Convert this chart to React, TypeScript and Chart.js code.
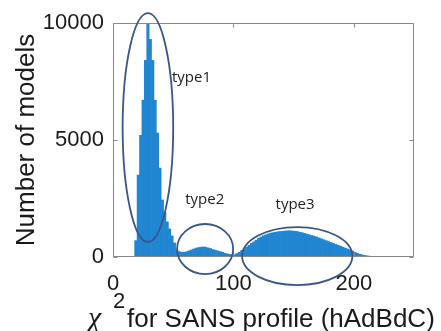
import React, { useEffect, useRef } from "react";
import { Chart, registerables } from "chart.js";
Chart.register(...registerables);

// Histogram of chi^2 values, bin width 2
const BIN_WIDTH = 2;
const type1Start = 16;
const type1Counts = [0, 700, 3500, 5200, 6700, 8400, 10000, 9300, 8400, 6700, 5300, 3800, 2440, 1900, 1500, 1200, 900, 600, 300, 230, 200, 200, 220, 260];
const type2Start = 64;
const type2Counts = [300, 340, 380, 400, 420, 430, 420, 390, 360, 320, 290, 260, 230, 200, 160, 130, 110, 100];
const type3Start = 100;
const type3Counts = [100, 150, 200, 280, 340, 420, 500, 580, 650, 720, 800, 860, 910, 950, 990, 1020, 1040, 1060, 1080, 1090, 1100, 1110, 1120, 1120, 1110, 1100, 1090, 1060, 1040, 1010, 980, 950, 920, 890, 860, 820, 780, 740, 700, 660, 620, 580, 540, 500, 460, 420, 380, 340, 300, 250, 200, 160, 120, 90, 70, 50, 35, 25, 15, 10, 5];

const xTicks = [0, 100, 200];
const yTicks = [0, 5000, 10000];

// annotation ellipses in data units: [cx, cy, rx, ry]
const ellipses = [
  [29, 5530, 21, 4890],
  [76.5, 340, 23.3, 1070],
  [153, 40, 45.8, 1240],
];
const typeLabels = ["type1", "type2", "type3"];
const typeLabelPos = [
  [49, 7650],
  [60, 2440],
  [135, 2220],
];

function buildPoints(start: number, counts: number[]) {
  return counts.map((v, i) => ({ x: start + i * BIN_WIDTH + BIN_WIDTH / 2, y: v }));
}

const overlayPlugin = {
  id: "overlay",
  afterDraw(chart: any) {
    const { ctx, chartArea: a, scales } = chart;
    const x = scales.x;
    const y = scales.y;
    ctx.save();
    // frame
    const L = Math.round(a.left) + 0.5;
    const R = Math.round(a.right) - 0.5;
    const T = Math.round(a.top) + 0.5;
    const B = Math.round(a.bottom) - 0.5;
    ctx.strokeStyle = "#8a8a8a";
    ctx.lineWidth = 1;
    ctx.beginPath();
    ctx.rect(L, T, R - L, B - T);
    ctx.stroke();
    // inward ticks
    const tl = 4;
    ctx.beginPath();
    xTicks.forEach((v) => {
      const px = Math.round(x.getPixelForValue(v)) + 0.5;
      ctx.moveTo(px, B);
      ctx.lineTo(px, B - tl);
      ctx.moveTo(px, T);
      ctx.lineTo(px, T + tl);
    });
    yTicks.forEach((v) => {
      const py = Math.round(y.getPixelForValue(v)) + 0.5;
      ctx.moveTo(L, py);
      ctx.lineTo(L + tl, py);
      ctx.moveTo(R, py);
      ctx.lineTo(R - tl, py);
    });
    ctx.stroke();

    // ellipses
    ctx.strokeStyle = "#3a5689";
    ctx.lineWidth = 1.8;
    ellipses.forEach(([cx, cy, rx, ry]) => {
      const pcx = x.getPixelForValue(cx);
      const pcy = y.getPixelForValue(cy);
      const prx = Math.abs(x.getPixelForValue(cx + rx) - pcx);
      const pry = Math.abs(y.getPixelForValue(cy + ry) - pcy);
      ctx.beginPath();
      ctx.ellipse(pcx, pcy, prx, pry, 0, 0, Math.PI * 2);
      ctx.stroke();
    });

    // type labels
    ctx.fillStyle = "#222";
    ctx.font = "15px 'Open Sans'";
    ctx.textAlign = "left";
    ctx.textBaseline = "middle";
    typeLabels.forEach((t, i) => {
      const [lx, ly] = typeLabelPos[i];
      ctx.fillText(t, x.getPixelForValue(lx), y.getPixelForValue(ly));
    });

    // y axis title
    ctx.fillStyle = "#1a1a1a";
    ctx.save();
    ctx.translate(34, (a.top + a.bottom) / 2);
    ctx.rotate(-Math.PI / 2);
    ctx.font = "26px 'Liberation Sans'";
    ctx.textAlign = "center";
    ctx.textBaseline = "alphabetic";
    ctx.fillText("Number of models", 0, 0);
    ctx.restore();

    // x axis title
    const base = a.bottom + 70;
    const startX = a.left - 25;
    ctx.textAlign = "left";
    ctx.textBaseline = "alphabetic";
    ctx.font = "italic 30px 'Liberation Serif'";
    ctx.fillText("χ", startX, base);
    ctx.font = "22px 'Liberation Sans'";
    ctx.fillText("2", startX + 25, base - 19);
    ctx.font = "26px 'Liberation Sans'";
    ctx.fillText("for SANS profile (hAdBdC)", startX + 39, base);
    ctx.restore();
  },
};

export default function App() {
  const ref = useRef<HTMLCanvasElement>(null);
  useEffect(() => {
    if (!ref.current) return;
    const points = [
      ...buildPoints(type1Start, type1Counts),
      ...buildPoints(type2Start, type2Counts),
      ...buildPoints(type3Start, type3Counts),
    ];
    const chart = new Chart(ref.current, {
      type: "bar",
      data: {
        datasets: [
          {
            data: points as any,
            backgroundColor: "#2186d2",
            borderWidth: 0,
            barPercentage: 1,
            categoryPercentage: 1,
          },
        ],
      },
      options: {
        responsive: false,
        animation: false,
        layout: { padding: { top: 23, right: 27, left: 0, bottom: 0 } },
        plugins: { legend: { display: false }, tooltip: { enabled: false } },
        scales: {
          x: {
            type: "linear",
            min: 0,
            max: 250,
            offset: false,
            grid: { display: false, drawTicks: false },
            border: { display: false },
            afterFit: (s: any) => {
              s.height = 74;
            },
            afterBuildTicks: (s: any) => {
              s.ticks = xTicks.map((v) => ({ value: v }));
            },
            ticks: {
              padding: 14,
              color: "#1a1a1a",
              font: { family: "'Liberation Sans'", size: 22 },
              maxRotation: 0,
            },
          },
          y: {
            min: 0,
            max: 10000,
            grid: { display: false, drawTicks: false },
            border: { display: false },
            afterFit: (s: any) => {
              s.width = 113;
            },
            afterBuildTicks: (s: any) => {
              s.ticks = yTicks.map((v) => ({ value: v }));
            },
            ticks: {
              padding: 9,
              color: "#1a1a1a",
              font: { family: "'Liberation Sans'", size: 22 },
              callback: (v: any) => String(v),
            },
          },
        },
      },
      plugins: [overlayPlugin],
    });
    return () => chart.destroy();
  }, []);
  return (
    <div style={{ position: "fixed", left: 0, top: 0, width: 441, height: 331, background: "#fff" }}>
      <canvas ref={ref} width={441} height={331} style={{ display: "block" }} />
    </div>
  );
}
